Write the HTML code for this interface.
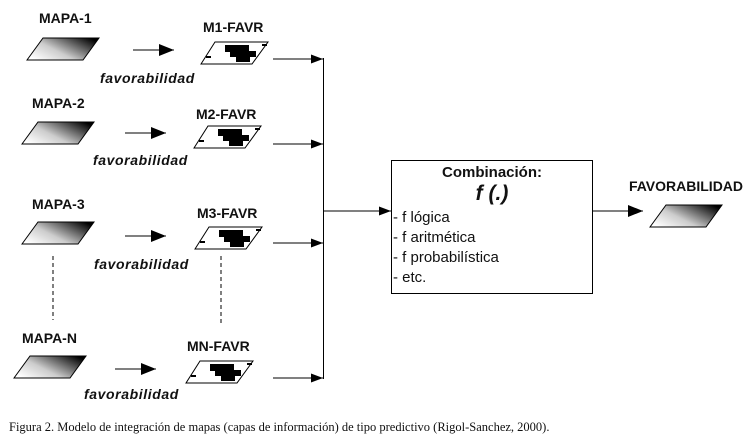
<!DOCTYPE html>
<html><head><meta charset="utf-8"><style>
html,body{margin:0;padding:0;background:#fff;}
svg{display:block;}
.b{font-family:"Liberation Sans",sans-serif;font-weight:bold;font-size:14px;fill:#111;}
.i{font-family:"Liberation Sans",sans-serif;font-weight:bold;font-style:italic;font-size:14px;letter-spacing:0.6px;fill:#111;}
.t{font-family:"Liberation Sans",sans-serif;font-size:15px;fill:#111;}
.c{font-family:"Liberation Serif",serif;font-size:12.5px;fill:#111;}
</style></head><body>
<svg width="754" height="445" viewBox="0 0 754 445" xmlns="http://www.w3.org/2000/svg">
<defs>
<linearGradient id="g" x1="0" y1="0.8" x2="1" y2="0.2">
<stop offset="0" stop-color="#fff"/><stop offset="0.4" stop-color="#ccc"/><stop offset="1" stop-color="#000"/>
</linearGradient>
<marker id="a" markerWidth="12" markerHeight="9" refX="12" refY="4.5" orient="auto" markerUnits="userSpaceOnUse">
<path d="M0,0 L12,4.5 L0,9 Z" fill="#000"/></marker>
<marker id="a2" markerWidth="15" markerHeight="12" refX="15" refY="6" orient="auto" markerUnits="userSpaceOnUse">
<path d="M0,0 L15,6 L0,12 Z" fill="#000"/></marker>
<g id="m"><polygon points="0,22 16,0 72,0 56,22" fill="url(#g)" stroke="#000" stroke-width="1"/></g>
<g id="f"><polygon points="0,22 14,0 67,0 51,22" fill="#fff" stroke="#000" stroke-width="1"/>
<rect x="24" y="3" width="24" height="7" fill="#000"/><rect x="29" y="9" width="26" height="6" fill="#000"/><rect x="35" y="14" width="14" height="6" fill="#000"/>
<rect x="5" y="14" width="5" height="2" fill="#000"/><rect x="61" y="2" width="5" height="2" fill="#000"/></g>
</defs>
<text class="b" x="39" y="23">MAPA-1</text>
<use href="#m" x="27" y="38"/>
<line x1="133" y1="50" x2="174" y2="50" stroke="#000" marker-end="url(#a2)"/>
<text class="b" x="203" y="32">M1-FAVR</text>
<use href="#f" x="201" y="42"/>
<text class="i" x="100" y="83">favorabilidad</text>
<line x1="273" y1="59" x2="323" y2="59" stroke="#000" marker-end="url(#a)"/>

<text class="b" x="32" y="108">MAPA-2</text>
<use href="#m" x="22" y="122"/>
<line x1="125" y1="133" x2="166" y2="133" stroke="#000" marker-end="url(#a2)"/>
<text class="b" x="196" y="119">M2-FAVR</text>
<use href="#f" x="194" y="126"/>
<text class="i" x="93" y="165">favorabilidad</text>
<line x1="273" y1="144" x2="323" y2="144" stroke="#000" marker-end="url(#a)"/>

<text class="b" x="32" y="209">MAPA-3</text>
<use href="#m" x="22" y="222"/>
<line x1="125" y1="236" x2="166" y2="236" stroke="#000" marker-end="url(#a2)"/>
<text class="b" x="197" y="218">M3-FAVR</text>
<use href="#f" x="195" y="227"/>
<text class="i" x="94" y="269">favorabilidad</text>
<line x1="273" y1="243" x2="323" y2="243" stroke="#000" marker-end="url(#a)"/>
<line x1="53" y1="256" x2="53" y2="320" stroke="#000" stroke-dasharray="4,3"/>
<line x1="221" y1="256" x2="221" y2="326" stroke="#000" stroke-dasharray="4,3"/>

<text class="b" x="22" y="343">MAPA-N</text>
<use href="#m" x="14" y="356"/>
<line x1="115" y1="369" x2="156" y2="369" stroke="#000" marker-end="url(#a2)"/>
<text class="b" x="187" y="351">MN-FAVR</text>
<use href="#f" x="186" y="361"/>
<text class="i" x="84" y="399">favorabilidad</text>
<line x1="273" y1="378" x2="323" y2="378" stroke="#000" marker-end="url(#a)"/>

<line x1="323.5" y1="58" x2="323.5" y2="379" stroke="#000"/>
<line x1="323" y1="211" x2="391" y2="211" stroke="#000" marker-end="url(#a)"/>
<rect x="391.5" y="160.5" width="201" height="133" fill="#fff" stroke="#000"/>
<text class="b" x="492" y="177" text-anchor="middle" style="font-size:15px">Combinación:</text>
<text class="i" x="492" y="200" text-anchor="middle" style="font-size:21px;letter-spacing:0">f (.)</text>
<text class="t" x="393" y="222">- f lógica</text>
<text class="t" x="393" y="242">- f aritmética</text>
<text class="t" x="393" y="262">- f probabilística</text>
<text class="t" x="393" y="282">- etc.</text>
<line x1="593" y1="211" x2="643" y2="211" stroke="#000" marker-end="url(#a2)"/>
<text class="b" x="686" y="191" text-anchor="middle">FAVORABILIDAD</text>
<use href="#m" x="650" y="205"/>
<text class="c" x="9" y="431">Figura 2. Modelo de integración de mapas (capas de información) de tipo predictivo (Rigol-Sanchez, 2000).</text>
</svg>
</body></html>
